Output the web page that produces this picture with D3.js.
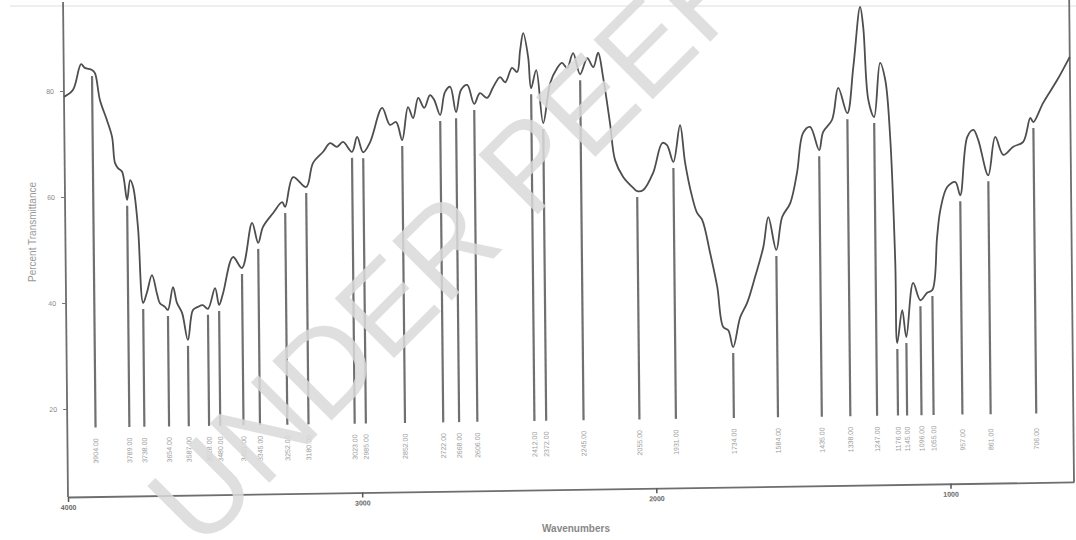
<!DOCTYPE html>
<html>
<head>
<meta charset="utf-8">
<script src="https://cdn.jsdelivr.net/npm/d3@7"></script>
<style>
  html, body { margin: 0; padding: 0; background: #fff; }
  svg { display: block; }
</style>
</head>
<body>
<svg id="chart" width="1076" height="540"></svg>
<script>
// spectrum (wavenumber in cm-1, percent transmittance)
const wavenumbers = [4000,3969,3941,3928,3904,3894,3878,3855,3838,3829,3819,3805,3789,3778,3768,3753,3738,3725,3707,3691,3681,3664,3654,3636,3623,3606,3587,3569,3552,3535,3518,3493,3480,3466,3431,3401,3365,3345,3328,3293,3262,3252,3224,3180,3156,3121,3097,3074,3053,3023,3005,2985,2961,2919,2893,2872,2852,2831,2814,2796,2776,2756,2742,2722,2705,2687,2668,2650,2629,2606,2586,2562,2541,2517,2500,2476,2459,2448,2437,2421,2412,2394,2372,2347,2323,2306,2289,2268,2245,2220,2200,2183,2167,2145,2129,2102,2068,2055,2034,2000,1968,1952,1931,1907,1891,1868,1852,1835,1809,1786,1767,1750,1734,1709,1685,1657,1628,1610,1584,1563,1535,1511,1489,1465,1435,1421,1390,1368,1338,1316,1291,1281,1266,1247,1225,1208,1193,1180,1176,1158,1145,1120,1096,1073,1055,1037,1025,1001,973,957,931,910,894,861,836,809,775,741,716,706,672,623,580];
const transmittance = [78.9,80.2,85.0,84.3,83.9,83.3,78.2,74.4,71.2,66.3,65.3,64.6,59.3,63.0,61.7,54.1,39.8,41.7,45.0,41.6,39.7,39.0,38.4,42.7,39.7,37.8,32.7,38.3,38.9,39.2,38.5,42.4,39.2,41.4,48.2,46.1,54.6,50.8,53.8,56.4,58.4,57.5,63.1,61.2,65.7,67.8,69.4,68.7,69.6,67.7,70.5,67.6,69.5,75.9,72.7,73.2,69.8,76.0,73.9,77.7,75.8,78.2,77.3,74.4,78.7,79.7,74.9,79.1,80.0,76.4,78.4,77.5,79.5,81.4,80.4,83.1,82.3,86.4,89.6,85.1,79.2,82.6,72.6,80.1,82.9,83.9,82.9,85.7,81.7,84.7,83.0,85.7,81.1,72.4,65.4,62.2,60.1,59.5,59.7,62.9,68.5,68.1,64.9,71.8,64.7,58.2,55.2,53.9,47.6,41.2,33.6,33.0,29.8,35.4,38.1,43.0,48.6,54.2,48.0,54.2,56.8,62.5,70.0,71.1,66.7,70.1,72.4,78.4,73.6,82.3,93.6,89.8,76.0,72.8,83.0,79.8,68.8,45.2,30.1,36.3,31.2,41.4,38.1,39.5,40.0,50.0,55.1,59.4,60.3,57.8,68.8,70.1,68.2,61.5,68.7,65.3,66.8,67.7,72.2,71.4,75.0,79.3,83.6];

// marked peaks (cm-1)
const peakWavenumbers = [3904,3789,3738,3654,3587,3518,3480,3401,3345,3252,3180,3023,2985,2852,2722,2668,2606,2412,2372,2245,2055,1931,1734,1584,1435,1338,1247,1176,1145,1096,1055,957,861,706];

const xTicks = [4000, 3000, 2000, 1000];
const yTicks = [20, 40, 60, 80];

const plotW = 1006, plotH = 495;

const svg = d3.select("#chart");

// faint scan edge at top
svg.append("line")
  .attr("x1", 10).attr("x2", 1076).attr("y1", 6).attr("y2", 6)
  .attr("stroke", "#eeeeee").attr("stroke-width", 2);

// the printed page is slightly skewed in the photo
const g = svg.append("g")
  .attr("transform", "translate(68,497) matrix(1,-0.015,0.010,1,0,0)");

const x = d3.scaleLinear().domain([4000, 580]).range([0, plotW]);
const y = d3.scaleLinear().domain([20, 80]).range([-88, -406]);

const data = d3.zip(wavenumbers, transmittance);
const tAt = d3.scaleLinear().domain(wavenumbers).range(transmittance);

// frame
g.append("line").attr("x1", 0).attr("x2", 0).attr("y1", 0).attr("y2", -plotH)
  .attr("stroke", "#6e6e6e").attr("stroke-width", 1.8);
g.append("line").attr("x1", plotW).attr("x2", plotW).attr("y1", 0).attr("y2", -plotH)
  .attr("stroke", "#6e6e6e").attr("stroke-width", 1.8);

const xAxis = g.append("g")
  .call(d3.axisBottom(x).tickValues(xTicks).tickSize(5).tickSizeOuter(0).tickFormat(d3.format("d")));
xAxis.select(".domain").attr("stroke", "#6e6e6e").attr("stroke-width", 1.8);
xAxis.selectAll(".tick line").attr("stroke", "#555").attr("stroke-width", 1.5);
xAxis.selectAll(".tick text")
  .attr("font-family", "Liberation Sans, Arial, sans-serif")
  .attr("font-size", 7).attr("font-weight", "bold").attr("fill", "#666");

const yAxis = g.append("g")
  .call(d3.axisLeft(y).tickValues(yTicks).tickSize(4).tickPadding(6).tickFormat(d3.format("d")));
yAxis.select(".domain").remove();
yAxis.selectAll(".tick line").attr("stroke", "#777");
yAxis.selectAll(".tick text")
  .attr("font-family", "Liberation Sans, Arial, sans-serif")
  .attr("font-size", 7).attr("fill", "#888");

// peak drop lines
const peaks = g.append("g").selectAll("g")
  .data(peakWavenumbers)
  .enter().append("g");

peaks.append("line")
  .attr("x1", d => x(d)).attr("x2", d => x(d))
  .attr("y1", d => y(tAt(d)) + 6)
  .attr("y2", -69)
  .attr("stroke", "#707070")
  .attr("stroke-width", 2.2);

peaks.append("text")
  .attr("transform", d => `translate(${x(d) + 2.5},-33) rotate(-90)`)
  .attr("text-anchor", "start")
  .attr("font-family", "Liberation Sans, Arial, sans-serif")
  .attr("font-size", 7)
  .attr("fill", "#9a9a9a")
  .text(d => d3.format(".2f")(d));

// spectrum
g.append("path")
  .datum(data)
  .attr("fill", "none")
  .attr("stroke", "#4e4e4e")
  .attr("stroke-width", 1.8)
  .attr("stroke-linejoin", "round")
  .attr("d", d3.line()
    .x(d => x(d[0]))
    .y(d => y(d[1]))
    .curve(d3.curveCatmullRom.alpha(0.5)));

// axis titles
svg.append("text")
  .attr("transform", "translate(36,232) rotate(-90)")
  .attr("text-anchor", "middle")
  .attr("font-family", "Liberation Sans, Arial, sans-serif")
  .attr("font-size", 10)
  .attr("fill", "#999")
  .text("Percent Transmittance");

svg.append("text")
  .attr("x", 576).attr("y", 532)
  .attr("text-anchor", "middle")
  .attr("font-family", "Liberation Sans, Arial, sans-serif")
  .attr("font-size", 10)
  .attr("font-weight", "bold")
  .attr("fill", "#888")
  .text("Wavenumbers");

// watermark
svg.append("text")
  .attr("transform", "translate(200,552) rotate(-45)")
  .attr("font-family", "Liberation Sans, Arial, sans-serif")
  .attr("font-size", 122)
  .attr("fill", "#d9d9d9")
  .attr("fill-opacity", 0.85)
  .text("UNDER PEER REVIEW");
</script>
</body>
</html>
